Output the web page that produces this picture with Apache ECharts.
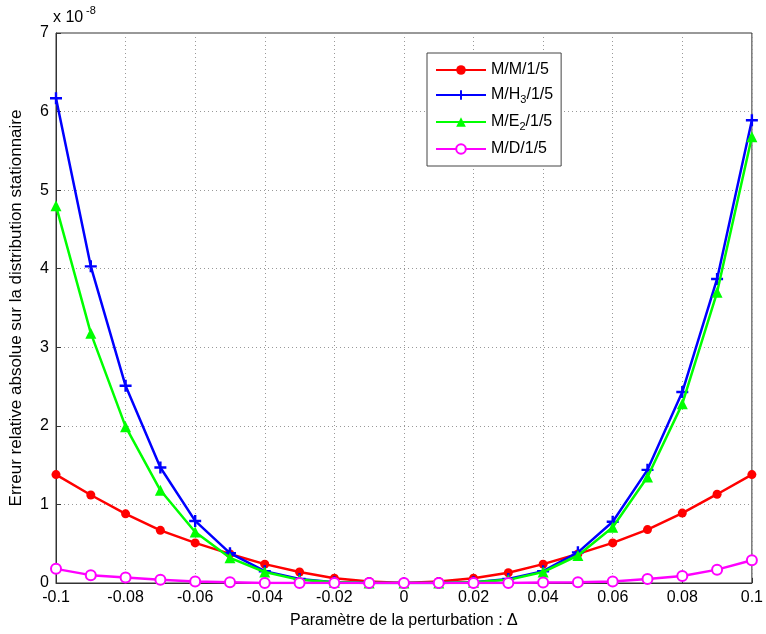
<!DOCTYPE html>
<html><head><meta charset="utf-8">
<script src="https://cdn.jsdelivr.net/npm/echarts@6/dist/echarts.min.js"></script>
<style>html,body{margin:0;padding:0;background:#fff}#c{width:766px;height:634px}</style>
</head><body><div id="c"></div>
<script>
const deltas = [-0.1,-0.09,-0.08,-0.07,-0.06,-0.05,-0.04,-0.03,-0.02,-0.01,0,0.01,0.02,0.03,0.04,0.05,0.06,0.07,0.08,0.09,0.1];
// values in units of 1e-8
const mm1 = [1.38,1.12,0.88,0.67,0.51,0.37,0.24,0.14,0.06,0.02,0,0.02,0.06,0.13,0.24,0.37,0.51,0.68,0.89,1.13,1.38];
const mh3 = [6.17,4.03,2.51,1.47,0.79,0.38,0.15,0.05,0.01,0.00,0,0.00,0.01,0.05,0.15,0.39,0.78,1.44,2.43,3.87,5.89];
const me2 = [4.80,3.18,1.99,1.18,0.65,0.32,0.14,0.04,0.01,0.00,0,0.00,0.01,0.04,0.14,0.35,0.71,1.35,2.28,3.70,5.68];
const md  = [0.18,0.10,0.07,0.04,0.02,0.01,0.00,0.00,0.00,0.00,0,0.00,0.00,0.00,0.005,0.01,0.02,0.05,0.09,0.17,0.29];
const yTicks = [0,1,2,3,4,5,6,7];
const xTicks = [-0.1,-0.08,-0.06,-0.04,-0.02,0,0.02,0.04,0.06,0.08,0.1];

const pair = arr => deltas.map((d,i)=>[d,arr[i]]);
const FONT = 'Liberation Sans';
const FS = 16;
const plus = 'path://M4,0h2v4h4v2h-4v4h-2v-4h-4v-2h4z';

const chart = echarts.init(document.getElementById('c'));
chart.setOption({
  animation:false,
  backgroundColor:'#fff',
  grid:{left:52,right:14,top:33,bottom:47,show:true,borderColor:'#333',borderWidth:1},
  legend:{
    left:427, top:53, width:134, orient:'vertical',
    padding:[9,8,9,8], itemGap:9, itemWidth:50, itemHeight:12,
    backgroundColor:'#fff', borderColor:'#444', borderWidth:1,
    textStyle:{fontFamily:FONT,fontSize:FS,color:'#000',rich:{
      t:{fontFamily:FONT,fontSize:FS,color:'#000'},
      sub:{fontFamily:FONT,fontSize:11,color:'#000',verticalAlign:'top',padding:[9,0,0,0]}
    }},
    formatter: n => {
      if(n==='M/H3/1/5') return '{t|M/H}{sub|3}{t|/1/5}';
      if(n==='M/E2/1/5') return '{t|M/E}{sub|2}{t|/1/5}';
      return '{t|'+n+'}';
    },
    data:['M/M/1/5','M/H3/1/5','M/E2/1/5','M/D/1/5']
  },
  xAxis:{
    type:'value', min:-0.1, max:0.1, interval:0.02,
    name:'Paramètre de la perturbation : Δ', nameLocation:'middle', nameGap:30,
    nameTextStyle:{fontFamily:FONT,fontSize:FS,color:'#000'},
    axisLine:{lineStyle:{color:'#333'}},
    axisTick:{inside:true,length:5,lineStyle:{color:'#333'}},
    axisLabel:{fontFamily:FONT,fontSize:FS,color:'#000',margin:7,
      formatter:v=>String(+v.toFixed(2))},
    splitLine:{show:true,lineStyle:{color:'#999',type:[1,3],width:1}}
  },
  yAxis:{
    type:'value', min:0, max:7, interval:1,
    name:'Erreur relative absolue sur la distribution stationnaire', nameLocation:'middle', nameGap:31,
    nameTextStyle:{fontFamily:FONT,fontSize:17,color:'#000'},
    axisLine:{show:true,onZero:false,lineStyle:{color:'#333'}},
    axisTick:{show:true,inside:true,length:5,lineStyle:{color:'#333'}},
    axisLabel:{fontFamily:FONT,fontSize:FS,color:'#000',margin:7},
    splitLine:{show:true,lineStyle:{color:'#999',type:[1,3],width:1}}
  },
  graphic:[
    {type:'text',left:53,top:10,style:{text:'x 10',fontFamily:FONT,fontSize:FS,fill:'#000'}},
    {type:'text',left:86,top:5,style:{text:'-8',fontFamily:FONT,fontSize:11,fill:'#000'}}
  ],
  series:[
    {name:'M/M/1/5',type:'line',data:pair(mm1),symbol:'circle',symbolSize:9,
     lineStyle:{color:'#ff0000',width:2.5},itemStyle:{color:'#ff0000'},z:3},
    {name:'M/H3/1/5',type:'line',data:pair(mh3),symbol:plus,symbolSize:12,
     lineStyle:{color:'#0000ff',width:2.5},itemStyle:{color:'#0000ff'},z:4},
    {name:'M/E2/1/5',type:'line',data:pair(me2),symbol:'triangle',symbolSize:11,
     lineStyle:{color:'#00ff00',width:2.5},itemStyle:{color:'#00ff00'},z:5},
    {name:'M/D/1/5',type:'line',data:pair(md),symbol:'emptyCircle',symbolSize:10,
     lineStyle:{color:'#ff00ff',width:2.5},itemStyle:{color:'#ff00ff',borderWidth:2},z:6}
  ]
});
</script></body></html>
